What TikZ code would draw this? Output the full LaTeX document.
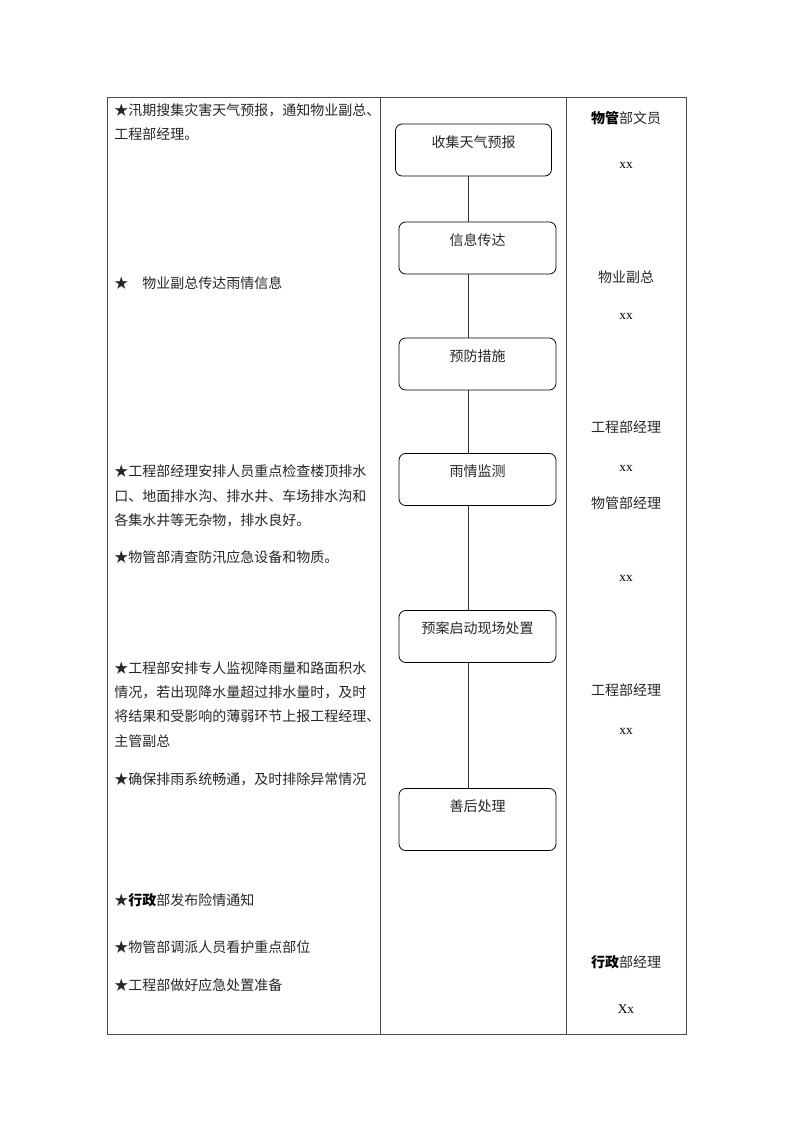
\documentclass[tikz,border=0pt]{standalone}
\usepackage{fontspec}
\setmainfont{Liberation Serif}
\newfontfamily\cjk{Noto Sans CJK SC}
\usetikzlibrary{positioning}
\tikzset{
  grid/.style={draw=black!70, line width=0.6pt},
  flowbox/.style={draw, rounded corners=5pt, line width=0.6pt,
    minimum width=117.75pt, inner sep=0pt,
    text height=17.25pt, text depth=21.75pt, font=\cjk\fontsize{10.5}{12}\selectfont, text=black!85},
  lefttext/.style={anchor=west, inner sep=0pt, font=\cjk\fontsize{10.5}{12}\selectfont, text=black!85},
  righttext/.style={inner sep=0pt, font=\cjk\fontsize{10.5}{12}\selectfont, text=black!85},
  xxtext/.style={inner sep=0pt, font=\fontsize{10}{12}\selectfont},
  link/.style={line width=0.6pt, black!80}
}
\begin{document}
\begin{tikzpicture}[x=0.75pt, y=-0.75pt]
    \useasboundingbox (0,0) rectangle (800,1132);
    % table frame
    \draw[grid] (107,97) rectangle (686,1034);
    \draw[grid] (380,97) -- (380,1034) (566,97) -- (566,1034);
    % flow steps
    \node[flowbox, minimum width=117pt] (collect) at (473.5,150) {收集天气预报};
    \node[flowbox] (inform)  at (477.5,248) {信息传达};
    \node[flowbox] (prevent) at (477.5,364) {预防措施};
    \node[flowbox] (monitor) at (477.5,479.5) {雨情监测};
    \node[flowbox] (respond) at (477.5,636.5) {预案启动现场处置};
    \node[flowbox, text depth=29.25pt] (after) at (477.5,819.5) {善后处理};
    \coordinate (axis) at (468,0);
    \foreach \a/\b in {collect/inform, inform/prevent, prevent/monitor, monitor/respond, respond/after}{
        \draw[link] (\a.south -| axis) -- (\b.north -| axis);
    }
    % left column, one node per printed line
    \foreach \y/\t [count=\i] in {
        110/★汛期搜集灾害天气预报，通知物业副总、,
        134/工程部经理。,
        283/★\hspace{1em}物业副总传达雨情信息,
        471/★工程部经理安排人员重点检查楼顶排水,
        496/口、地面排水沟、排水井、车场排水沟和,
        520/各集水井等无杂物，排水良好。,
        557/★物管部清查防汛应急设备和物质。,
        668/★工程部安排专人监视降雨量和路面积水,
        692/情况，若出现降水量超过排水量时，及时,
        716/将结果和受影响的薄弱环节上报工程经理、,
        741/主管副总,
        779/★确保排雨系统畅通，及时排除异常情况,
        900/★{\bfseries\color{black}行政}部发布险情通知,
        947/★物管部调派人员看护重点部位,
        985/★工程部做好应急处置准备}{
        \node[lefttext] (l\i) at (114,\y) {\t};
    }
    % right column
    \foreach \y/\t [count=\i] in {
        118/{\bfseries\color{black}物管}部文员,
        277/物业副总,
        427/工程部经理,
        503/物管部经理,
        690/工程部经理,
        962/{\bfseries\color{black}行政}部经理}{
        \node[righttext] (r\i) at (626,\y) {\t};
    }
    \foreach \y/\t [count=\i] in {165/xx, 316/xx, 468/xx, 578/xx, 731/xx, 1009/Xx}{
        \node[xxtext] (x\i) at (626,\y) {\t};
    }
\end{tikzpicture}
\end{document}
